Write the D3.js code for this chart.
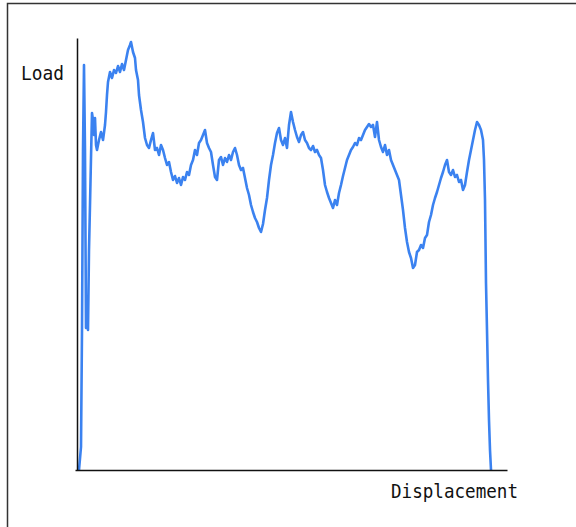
<!DOCTYPE html>
<html>
<script src='https://d3js.org/d3.v7.min.js'></script>
<style>
 body {margin: 0; background: white;}
 text {font-family: 'DejaVu Sans Mono', monospace; font-size: 19px; fill: #111;}
</style>
<body onload='init()'>
<svg width=576 height=527>
</svg>
<script>
// load / displacement curve: [displacement, load]
var curve = [
 [1,0],[2,11.5],[2.5,70],[3,160],[3.5,202.5],[4,160],[4.5,71],[5,85],[5.5,70],[6,110],[6.5,132.5],
 [7,156],[7.5,178.5],[8,175],[8.5,167.5],[9,176],[9.5,162.5],[10,160],[11,165],[12,169],[13,165],
 [14,172.5],[14.5,179],[15,187.5],[15.5,194],[16.5,199],[17.5,196],[18.5,200],[19.5,198.5],[20.5,202],
 [21.5,199],[22.5,203],[23.5,200],[24.5,205],[25.5,210],[26.5,212.5],[27,214],[28,209],[29,206],
 [29.5,200],[30.5,195],[31,187.5],[32,180],[33,174],[34,166],[35,162.5],[36,161],[37,165],[38,168.5],
 [39,160],[40,161],[41,157.5],[42,162.5],[43,160],[44,156],[45,152.5],[46,154],[47,149],[48,145],
 [49,147],[50,143.5],[51,146],[52,142.5],[53,146.5],[54,145],[55,149],[56,147.5],[57,152.5],[58,155],
 [59,160],[60,157.5],[61,163.5],[62,165],[63,167.5],[64,170],[65,163.5],[66,161],[67,159],[68,152.5],
 [69,146.5],[70,145],[71,155],[72,156.5],[73,152.5],[74,156],[75,154],[76,157.5],[77,155],[78,159],
 [79,161],[80,157.5],[81,152.5],[82,150],[83,151],[84,146],[85,141],[86,137.5],[87,132.5],[88,129],
 [89,126],[90,124],[91,121],[92,119],[93,123],[94,130],[95,136],[96,145],[97,152.5],[98,157.5],
 [99,163.5],[100,168.5],[101,171],[102,165],[103,162.5],[104,166],[105,161],[106,172.5],[107,179],
 [108,174],[109,170],[110,166.5],[111,164],[112,167.5],[113,169],[114,165],[115,163.5],[116,161],
 [117,160],[118,162],[119,159],[120,160],[121,157.5],[122,156],[123,150],[124,142.5],[125,139],
 [126,136],[127,133.5],[128,131],[129,135],[130,132.5],[131,138.5],[132,142.5],[133,147],[134,151],
 [135,155],[136,157.5],[137,160],[138,161.5],[139,163.5],[140,162.5],[141,166],[142,165],[143,167.5],
 [144,170],[145,171.5],[146,173],[147,171.5],[148,172.5],[149,166.5],[150,174],[151,165],[152,161.5],
 [153,159],[154,162.5],[155,157.5],[156,160],[157,155],[158,152.5],[159,150],[160,147.5],[161,145],
 [162,137.5],[163,130],[164,121],[165,114],[166,109],[167,106],[168,101],[169,102.5],[170,109],
 [171,110],[172,112.5],[173,111],[174,116],[175,117.5],[176,124],[177,127.5],[178,132.5],[179,136],
 [180,139],[181,142.5],[182,146],[183,149],[184,152.5],[185,155],[186,149],[187,147.5],[188,150],
 [189,146.5],[190,147.5],[191,144],[192,145],[193,140],[194,142.5],[195,149],[196,155],[197,160],
 [198,165],[199,170],[200,174],[201,172.5],[202,170],[203,165],[203.5,155],[204,135],[204.5,93.5],
 [205,70],[205.5,45],[206,25],[206.5,10],[207,0]
];
var xDomain = [0, 215];
var yDomain = [0, 216];
var xTitle = 'Displacement';
var yTitle = 'Load';

function init() {
 var svg = d3.select('svg');
 var x = d3.scaleLinear().domain(xDomain).range([77, 507]);
 var y = d3.scaleLinear().domain(yDomain).range([470, 38]);

 // outer frame (right and bottom edges fall outside the picture)
 svg.append('rect')
  .attr('x', 7.5).attr('y', 3.5).attr('width', 600).attr('height', 600)
  .attr('fill', 'none').attr('stroke', '#333').attr('stroke-width', 1.5);

 svg.append('path')
  .datum(curve)
  .attr('fill', 'none')
  .attr('stroke', '#3b82f0')
  .attr('stroke-width', 2.6)
  .attr('stroke-linejoin', 'round')
  .attr('d', d3.line().x(function (d) { return x(d[0]); }).y(function (d) { return y(d[1]); }));

 svg.append('g')
  .attr('transform', 'translate(77,0)')
  .call(d3.axisLeft(y).tickValues([]).tickSizeOuter(0));
 svg.append('g')
  .attr('transform', 'translate(0,470)')
  .call(d3.axisBottom(x.copy().range([75, 507])).tickValues([]).tickSizeOuter(0));
 svg.selectAll('.domain').attr('stroke', '#111').attr('stroke-width', 1.5);

 svg.append('text').attr('x', 21).attr('y', 80)
  .attr('textLength', 43).attr('lengthAdjust', 'spacingAndGlyphs').text(yTitle);
 svg.append('text').attr('x', 391).attr('y', 498)
  .attr('textLength', 127).attr('lengthAdjust', 'spacingAndGlyphs').text(xTitle);
}
</script>
</body>
</html>
